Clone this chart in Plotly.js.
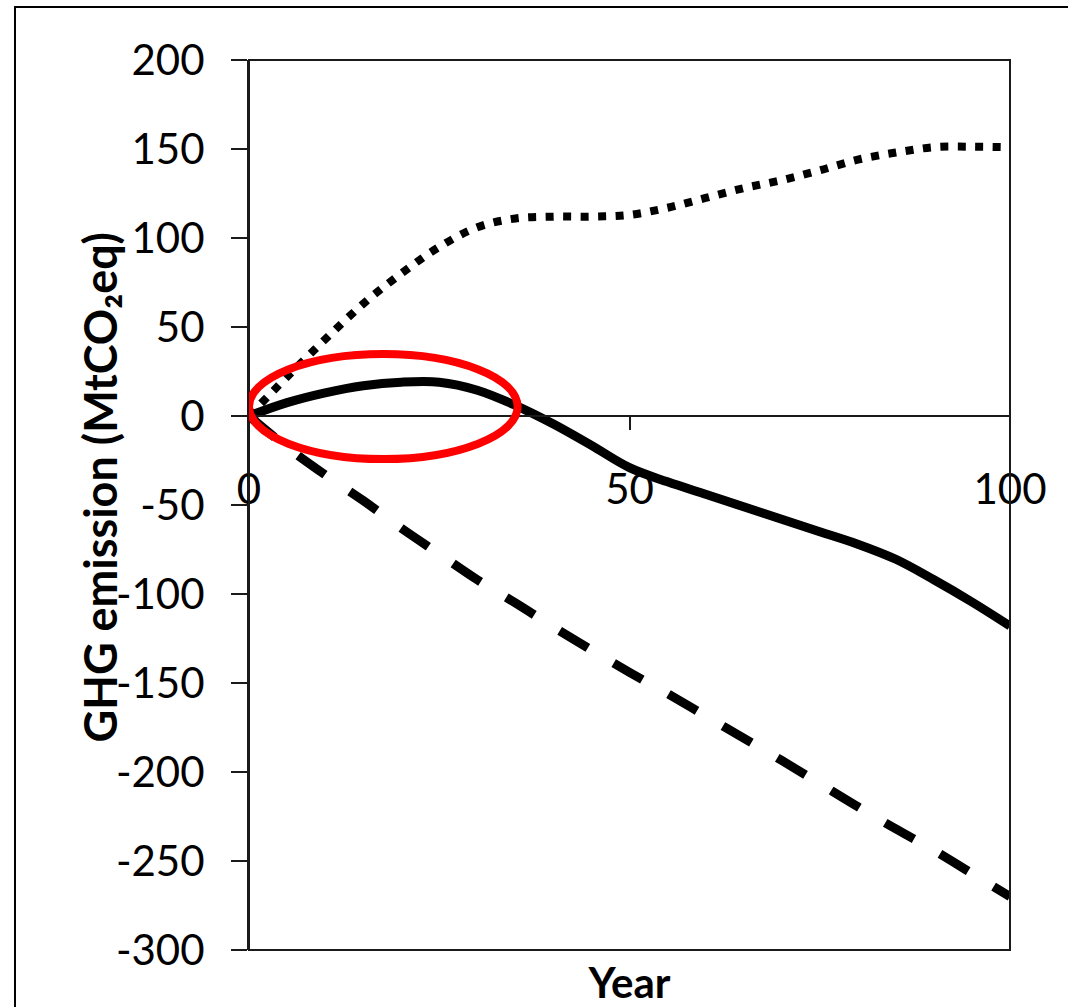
<!DOCTYPE html>
<html>
<head>
<meta charset="utf-8">
<script src="https://cdn.plot.ly/plotly-3.0.1.min.js"></script>
<style>
html,body{margin:0;padding:0;background:#ffffff;}
#chart{width:1068px;height:1007px;}
</style>
</head>
<body>
<div id="chart"></div>
<script>
// ---- data ----
const years = [0,5,10,15,20,25,30,35,40,45,50,55,60,65,70,75,80,85,90,95,100];
const solidSeries  = [0,7.5,13,17,19,19,14.5,6,-4.5,-16.5,-29,-37,-44,-51,-58,-65,-72,-80.5,-92,-104.5,-118];
const dottedSeries = [0,22,43,63,80,95,106,111,112,112,113,117,122.5,128,132.5,138,144,148,151,151.3,151];
const dashedSeries = [0,-17.5,-33,-47.5,-63,-77.5,-92,-105,-118.5,-131.5,-144,-156,-168.5,-181,-193.5,-206.5,-219.5,-232,-244,-257,-270];
const yTickValues = [200,150,100,50,0,-50,-100,-150,-200,-250,-300];
const yTickLabels = ['200','150','100','50','0','-50','-100','-150','-200','-250','-300'];
const xTickValues = [0,50,100];
const xTickLabels = ['0','50','100'];
const yAxisTitle = 'GHG emission (MtCO₂eq)';
const xAxisTitle = 'Year';

const FONT = 'Lato, "Open Sans", sans-serif';
const AX = '#1a1a1a';

const traces = [
  {x: years, y: dashedSeries, mode: 'lines', type: 'scatter', name: 'dashed',
   line: {color: '#000', width: 9, dash: '33px,30px', shape: 'spline', smoothing: 1}},
  {x: years, y: dottedSeries, mode: 'lines', type: 'scatter', name: 'dotted',
   line: {color: '#000', width: 8, dash: '8px,9.5px', shape: 'spline', smoothing: 1}},
  {x: years, y: solidSeries, mode: 'lines', type: 'scatter', name: 'solid',
   line: {color: '#000', width: 9, shape: 'spline', smoothing: 1}}
];

const layout = {
  width: 1068, height: 1007,
  margin: {l: 249, r: 58, t: 60, b: 57},
  paper_bgcolor: '#fff', plot_bgcolor: '#fff',
  showlegend: false,
  font: {family: FONT, color: '#000', size: 42},
  xaxis: {
    range: [0, 100], tickvals: xTickValues, ticktext: xTickLabels,
    anchor: 'free', position: 0.6,
    showline: true, linecolor: AX, linewidth: 2,
    ticks: 'outside', ticklen: 13, tickwidth: 2, tickcolor: AX,
    ticklabelstandoff: 24,
    showgrid: false, zeroline: false,
    tickfont: {family: FONT, size: 42, color: '#000'},
    title: {text: xAxisTitle, standoff: 461, font: {family: FONT, size: 42, weight: 700, color: '#000'}}
  },
  yaxis: {
    range: [-300, 200], tickvals: yTickValues, ticktext: yTickLabels,
    showline: true, linecolor: AX, linewidth: 2,
    ticks: 'outside', ticklen: 16, tickwidth: 2, tickcolor: AX,
    ticklabelstandoff: 18,
    showgrid: false, zeroline: false,
    tickfont: {family: FONT, size: 42, color: '#000'}
  },
  annotations: [
    {text: yAxisTitle, textangle: -90, showarrow: false,
     xref: 'paper', yref: 'paper', x: -0.1958, y: 0.5197,
     xanchor: 'center', yanchor: 'middle',
     font: {family: FONT, size: 45, weight: 700, color: '#000'}}
  ],
  shapes: [
    {type: 'rect', xref: 'paper', yref: 'paper', x0: 0, x1: 1, y0: 0, y1: 1,
     line: {color: AX, width: 2}, fillcolor: 'rgba(0,0,0,0)', layer: 'above'},
    {type: 'rect', xref: 'paper', yref: 'paper', x0: -0.3075, x1: 1.1, y0: -0.09, y1: 1.0596,
     line: {color: '#000', width: 2}, fillcolor: 'rgba(0,0,0,0)', layer: 'below'},
    {type: 'circle', xref: 'x', yref: 'y', x0: 0, x1: 35.3, y0: -24.2, y1: 34.8,
     line: {color: '#ff0000', width: 8}, fillcolor: 'rgba(0,0,0,0)', layer: 'above'}
  ]
};

Plotly.newPlot('chart', traces, layout, {displayModeBar: false, staticPlot: true});
</script>
</body>
</html>
